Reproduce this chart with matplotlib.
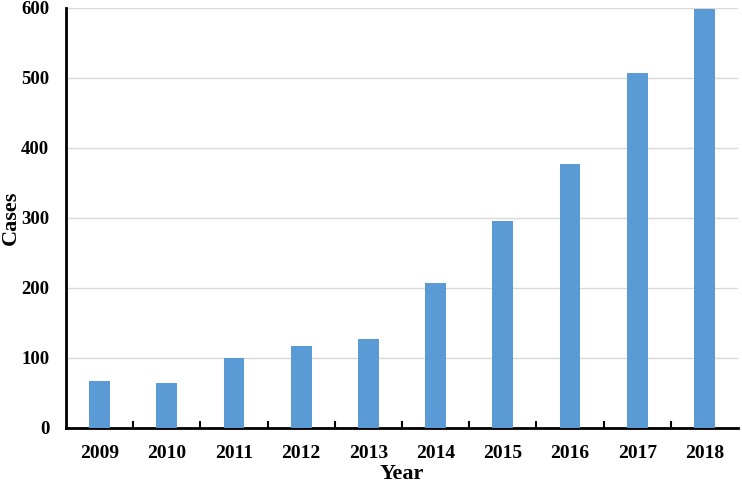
import matplotlib
matplotlib.use("Agg")
import matplotlib.pyplot as plt
import numpy as np

years = ["2009", "2010", "2011", "2012", "2013", "2014", "2015", "2016", "2017", "2018"]
cases = [67, 65, 100, 117, 127, 207, 295, 377, 507, 598]
yticks = [0, 100, 200, 300, 400, 500, 600]

plt.rcParams['font.family'] = ['Liberation Serif', 'DejaVu Serif']
plt.rcParams['font.weight'] = 'bold'

fig = plt.figure(figsize=(7.42, 4.83), dpi=100)
ax = fig.add_axes([66/742, 1-428/483, (738-66)/742, (428-8)/483])

x = np.arange(len(years))
ax.bar(x, cases, width=0.31, color='#5B9BD5', zorder=3)

ax.set_xlim(-0.5, len(years)-0.5)
ax.set_ylim(0, 600)
ax.set_yticks(yticks)
ax.set_yticklabels([str(v) for v in yticks], fontsize=13.5, fontweight='bold')
ax.set_xticks(x)
ax.set_xticklabels(years, fontsize=14, fontweight='bold')
ax.tick_params(axis='x', length=0, pad=12)
ax.tick_params(axis='y', length=0, pad=12)
ax.set_xticks(np.arange(0.5, len(years)-0.5, 1), minor=True)
ax.tick_params(axis='x', which='minor', direction='in', length=5, width=1.5, color='black')

ax.yaxis.grid(True, color='#D9D9D9', linewidth=1, zorder=0)
ax.set_axisbelow(True)

for s in ['top', 'right']:
    ax.spines[s].set_visible(False)
for s in ['left', 'bottom']:
    ax.spines[s].set_linewidth(2)
    ax.spines[s].set_color('black')

ax.set_xlabel('Year', fontsize=16, fontweight='bold', labelpad=2)
fig.text(11/742, 1-218/483, 'Cases', rotation=90, ha='center', va='center',
         fontsize=16, fontweight='bold')

fig.savefig('out.png', dpi=100)
